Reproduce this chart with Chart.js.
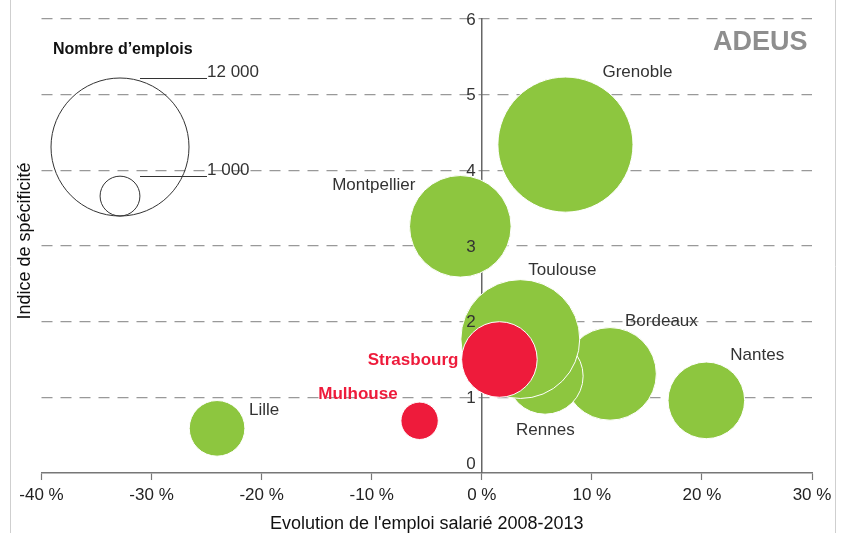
<!DOCTYPE html>
<html><head><meta charset="utf-8">
<script src="https://cdn.jsdelivr.net/npm/chart.js@4"></script>
<style>html,body{margin:0;padding:0;background:#fff}#wrap{width:845px;height:533px;position:relative}</style>
</head><body><div id="wrap"><canvas id="c" width="845" height="533"></canvas></div>
<script>
// ---- data ----
const cities      = ['Grenoble','Montpellier','Lille','Nantes','Bordeaux','Rennes','Toulouse','Mulhouse','Strasbourg'];
const evolution   = [7.6, -1.95, -24.05, 20.4, 11.65, 5.75, 3.5, -5.65, 1.6];   // % 2008-2013
const specificity = [4.34, 3.26, 0.59, 0.96, 1.31, 1.28, 1.77, 0.69, 1.50];
const jobs        = [11500, 6500, 1950, 3700, 5400, 3650, 8900, 880, 3600];
const highlighted = ['Mulhouse','Strasbourg'];
const xTickValues = [-40,-30,-20,-10,0,10,20,30];
const yTickValues = [0,1,2,3,4,5,6];
const legendJobs  = [12000, 1000];
const legendTitle = 'Nombre d\u2019emplois';
const xTitle = "Evolution de l'emploi salarié 2008-2013";
const yTitle = 'Indice de spécificité';

// ---- styles ----
const GREEN = '#8dc63f', RED = '#ee1b3b', TEXT = '#333333';
const FONT = "'Liberation Sans', Arial, Helvetica, sans-serif";
const R_REF = 69; // pixel radius of the 12 000 reference bubble
const radiusFor = v => R_REF * Math.sqrt(v / legendJobs[0]);

const labelOffsets = {
  Grenoble:   {dx: 37,  dy: -72, align: 'left'},
  Montpellier:{dx: -45, dy: -41, align: 'right'},
  Toulouse:   {dx: 8,   dy: -69, align: 'left'},
  Bordeaux:   {dx: 15,  dy: -53, align: 'left'},
  Nantes:     {dx: 24,  dy: -45, align: 'left'},
  Rennes:     {dx: -29, dy: 54,  align: 'left'},
  Lille:      {dx: 32,  dy: -18, align: 'left'},
  Strasbourg: {dx: -41, dy: 1,   align: 'right'},
  Mulhouse:   {dx: -22, dy: -26, align: 'right'}
};

function pointsWhere(test) {
  return cities.map((c, i) => i).filter(i => test(cities[i])).map(i => ({
    x: evolution[i], y: specificity[i], r: radiusFor(jobs[i]), name: cities[i]
  }));
}

const datasets = [
  {label: 'Alsace', data: pointsWhere(c => highlighted.includes(c)), backgroundColor: RED, borderColor: '#fff', borderWidth: 1},
  {label: 'Autres', data: pointsWhere(c => !highlighted.includes(c)), backgroundColor: GREEN, borderColor: '#fff', borderWidth: 1}
];

const decorPlugin = {
  id: 'decor',
  beforeDraw(chart) {
    const ctx = chart.ctx;
    ctx.save();
    ctx.fillStyle = '#fff';
    ctx.fillRect(0, 0, chart.width, chart.height);
    ctx.strokeStyle = '#cfcfcf';
    ctx.lineWidth = 1;
    ctx.beginPath();
    ctx.moveTo(10.5, 0); ctx.lineTo(10.5, chart.height);
    ctx.moveTo(835.5, 0); ctx.lineTo(835.5, chart.height);
    ctx.stroke();
    ctx.restore();
  },
  afterDraw(chart) {
    const ctx = chart.ctx;
    const xs = chart.scales.x, ys = chart.scales.y;
    ctx.save();
    // y tick labels next to the y axis at x = 0
    const ax = xs.getPixelForValue(0);
    ctx.font = '17px ' + FONT;
    ctx.fillStyle = TEXT;
    ctx.textAlign = 'right';
    ctx.textBaseline = 'middle';
    yTickValues.forEach(v => {
      let y = ys.getPixelForValue(v);
      if (v === ys.min) y -= 10;
      ctx.fillText(String(v), ax - 6, y + 1);
    });
    // y title
    ctx.save();
    ctx.translate(25, 241);
    ctx.rotate(-Math.PI / 2);
    ctx.textAlign = 'center';
    ctx.fillStyle = '#111';
    ctx.font = '18px ' + FONT;
    ctx.fillText(yTitle, 0, 0);
    ctx.restore();
    // bubble labels
    chart.data.datasets.forEach((ds, di) => {
      const meta = chart.getDatasetMeta(di);
      meta.data.forEach((el, i) => {
        const name = ds.data[i].name;
        const o = labelOffsets[name];
        const red = highlighted.includes(name);
        ctx.font = (red ? 'bold ' : '') + '17px ' + FONT;
        ctx.fillStyle = red ? RED : TEXT;
        ctx.textAlign = o.align;
        ctx.textBaseline = 'middle';
        ctx.fillText(name, el.x + o.dx, el.y + o.dy);
      });
    });
    // size legend
    const cx = 120, bottom = 216;
    ctx.strokeStyle = '#333';
    ctx.lineWidth = 1;
    ctx.font = 'bold 16px ' + FONT;
    ctx.fillStyle = '#111';
    ctx.textAlign = 'left';
    ctx.fillText(legendTitle, 53, 50);
    legendJobs.forEach(v => {
      const r = radiusFor(v);
      ctx.beginPath();
      ctx.arc(cx, bottom - r, r, 0, Math.PI * 2);
      ctx.stroke();
      const ty = Math.round(bottom - 2 * r) + 0.5;
      ctx.beginPath();
      ctx.moveTo(cx + 20, ty); ctx.lineTo(207, ty);
      ctx.stroke();
      ctx.font = '17px ' + FONT;
      ctx.fillStyle = TEXT;
      ctx.fillText(v.toLocaleString('fr-FR').replace(/\s/g, ' '), 207, ty - 6);
    });
    // logo
    ctx.font = 'bold 27px ' + FONT;
    ctx.fillStyle = '#8e8e8e';
    ctx.textAlign = 'left';
    ctx.filter = 'blur(0.5px)';
    ctx.fillText('ADEUS', 713, 43);
    ctx.filter = 'none';
    ctx.restore();
  }
};

new Chart(document.getElementById('c'), {
  type: 'bubble',
  data: {datasets},
  options: {
    responsive: false,
    devicePixelRatio: 1,
    animation: false,
    events: [],
    layout: {autoPadding: false, padding: {left: 41.5, right: 33, top: 19, bottom: -1.5}},
    plugins: {legend: {display: false}, tooltip: {enabled: false}},
    scales: {
      x: {
        type: 'linear', min: xTickValues[0], max: xTickValues[xTickValues.length - 1],
        afterBuildTicks: s => { s.ticks = xTickValues.map(v => ({value: v})); },
        ticks: {color: '#222', font: {size: 17, family: FONT}, padding: 5, callback: v => v + ' %', maxRotation: 0},
        grid: {drawOnChartArea: false, drawTicks: true, tickLength: 7, tickColor: '#777', tickWidth: 1.2},
        border: {display: true, color: '#777', width: 1.5},
        title: {display: true, text: xTitle, color: '#111', font: {size: 18, family: FONT}, padding: {top: 2.5, bottom: 0}}
      },
      y: {
        type: 'linear', min: yTickValues[0], max: yTickValues[yTickValues.length - 1],
        position: {x: 0},
        afterBuildTicks: s => { s.ticks = yTickValues.map(v => ({value: v})); },
        ticks: {display: false},
        grid: {drawTicks: false, color: c => (c.tick && c.tick.value === 0) ? 'rgba(0,0,0,0)' : '#999', lineWidth: 1.2},
        border: {display: true, color: '#666', width: 1.5, dash: [11, 8]}
      }
    }
  },
  plugins: [decorPlugin]
});
</script>
</body></html>
